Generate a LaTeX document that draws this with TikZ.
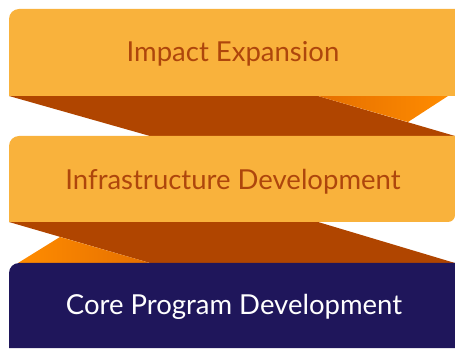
\documentclass[tikz,border=0pt]{standalone}
\usepackage{fontspec}
\setmainfont{Lato}
\usepackage{tikz}
\usetikzlibrary{positioning}
\definecolor{boxorange}{HTML}{F9B23C}
\definecolor{foldbrown}{HTML}{B04500}
\definecolor{backdark}{HTML}{E56F00}
\definecolor{backlight}{HTML}{FF8C00}
\definecolor{labelbrown}{HTML}{AE460C}
\definecolor{corenavy}{HTML}{1F165B}
\tikzstyle{fold} = [fill=foldbrown]
\tikzstyle{stagebox} = [fill=boxorange]
\tikzstyle{stagelabel} = [text=labelbrown, font=\fontsize{27.5}{30}\selectfont, inner sep=0pt]

\begin{document}
\begin{tikzpicture}[x=1pt, y=1pt]
		\useasboundingbox (0,0) rectangle (455,348);
		% ribbon between the two upper stages
		\fill[fold] (9,252) -- (318,252) -- (455,212) -- (150,212) -- cycle;
		\shade[left color=backdark, right color=backlight] (318,252) -- (448,252) -- (408,226) -- cycle;
		% ribbon between middle and core stage
		\fill[fold] (9,126) -- (318,126) -- (455,85) -- (150,85) -- cycle;
		\shade[left color=backlight, right color=backdark] (18,85) -- (60,111) -- (150,85) -- cycle;
		% stages
		\fill[stagebox] (9,252) -- (9,329) arc[start angle=180, end angle=90, radius=10] -- (455,339) -- (455,252) -- cycle;
		\fill[stagebox] (9,126) -- (9,202) arc[start angle=180, end angle=90, radius=10] -- (455,212) -- (455,133) arc[start angle=0, end angle=-90, radius=7] -- cycle;
		\fill[corenavy] (9,0) -- (9,75) arc[start angle=180, end angle=90, radius=10] -- (455,85) -- (455,0) -- cycle;
		\node[stagelabel] (impact) at (233,294) {Impact Expansion};
		\node[stagelabel] (infra) at (233,166) {Infrastructure Development};
		\node[stagelabel, text=white] (core) at (234,41) {Core Program Development};
	\end{tikzpicture}
\end{document}
